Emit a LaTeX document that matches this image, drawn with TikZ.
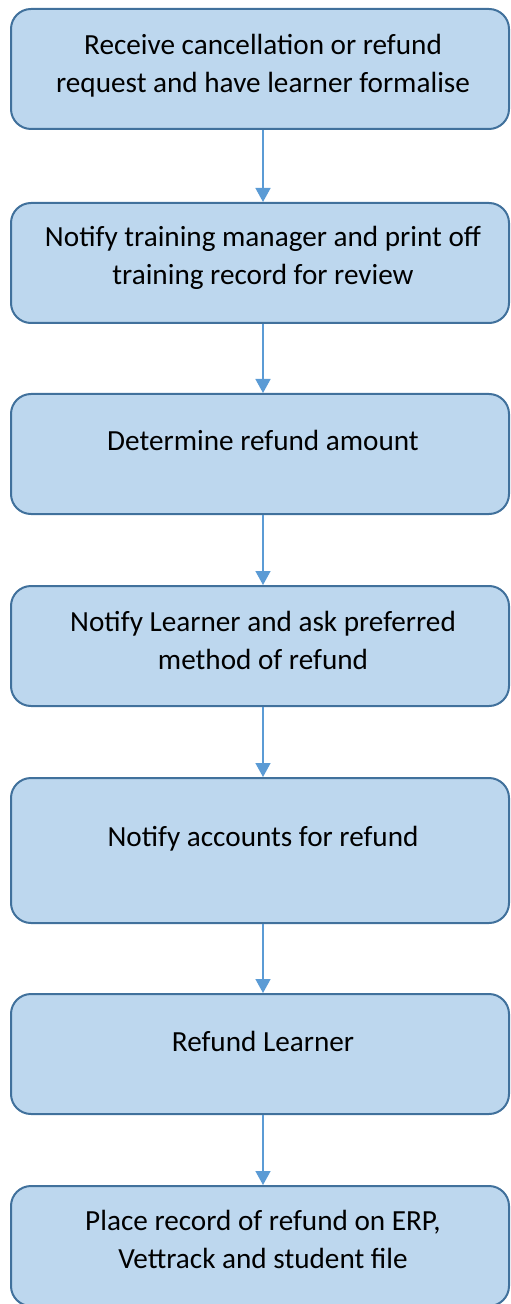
\documentclass[tikz,border=0pt]{standalone}
\usepackage{fontspec}
\setmainfont{Carlito}
\usetikzlibrary{arrows.meta}
\definecolor{boxfill}{HTML}{BDD7EE}
\definecolor{boxline}{HTML}{41719C}
\definecolor{flowline}{HTML}{5B9BD5}
\begin{document}
\begin{tikzpicture}[x=0.5pt,y=-0.5pt,
  stepbox/.style={draw=boxline, fill=boxfill, line width=1pt,
    rounded corners=10pt, minimum width=249pt, minimum height=60pt, inner sep=0pt},
  steptext/.style={align=center, font=\fontsize{14.6}{19}\selectfont,
    inner sep=0pt, anchor=base},
  flow/.style={draw=flowline, line width=0.75pt,
    -{Triangle[width=7.5pt,length=7pt]}}
]
\clip (0,0) rectangle (510,1304);
\useasboundingbox (0,0) rectangle (510,1304);

% process steps
\node[stepbox] (s1) at (260,69) {};
\node[stepbox] (s2) at (260,263) {};
\node[stepbox] (s3) at (260,454) {};
\node[stepbox] (s4) at (260,646) {};
\node[stepbox, minimum height=72.5pt] (s5) at (260,850.5) {};
\node[stepbox] (s6) at (260,1054) {};
\node[stepbox] (s7) at (260,1246) {};

% step texts (base anchor sits on the last line)
\node[steptext] (t1) at (263,93) {Receive cancellation or refund\\request and have learner formalise};
\node[steptext] (t2) at (263,285) {Notify training manager and print off\\training record for review};
\node[steptext] (t3) at (263,451) {Determine refund amount};
\node[steptext] (t4) at (263,669) {Notify Learner and ask preferred\\method of refund};
\node[steptext] (t5) at (263,846) {Notify accounts for refund};
\node[steptext] (t6) at (263,1051) {Refund Learner};
\node[steptext] (t7) at (263,1268) {Place record of refund on ERP,\\Vettrack and student file};

% connectors
\foreach \a/\b in {s1/s2, s2/s3, s3/s4, s4/s5, s5/s6, s6/s7}
  \draw[flow] ([xshift=1.5pt]\a.south) -- ([xshift=1.5pt]\b.north);
\end{tikzpicture}
\end{document}
